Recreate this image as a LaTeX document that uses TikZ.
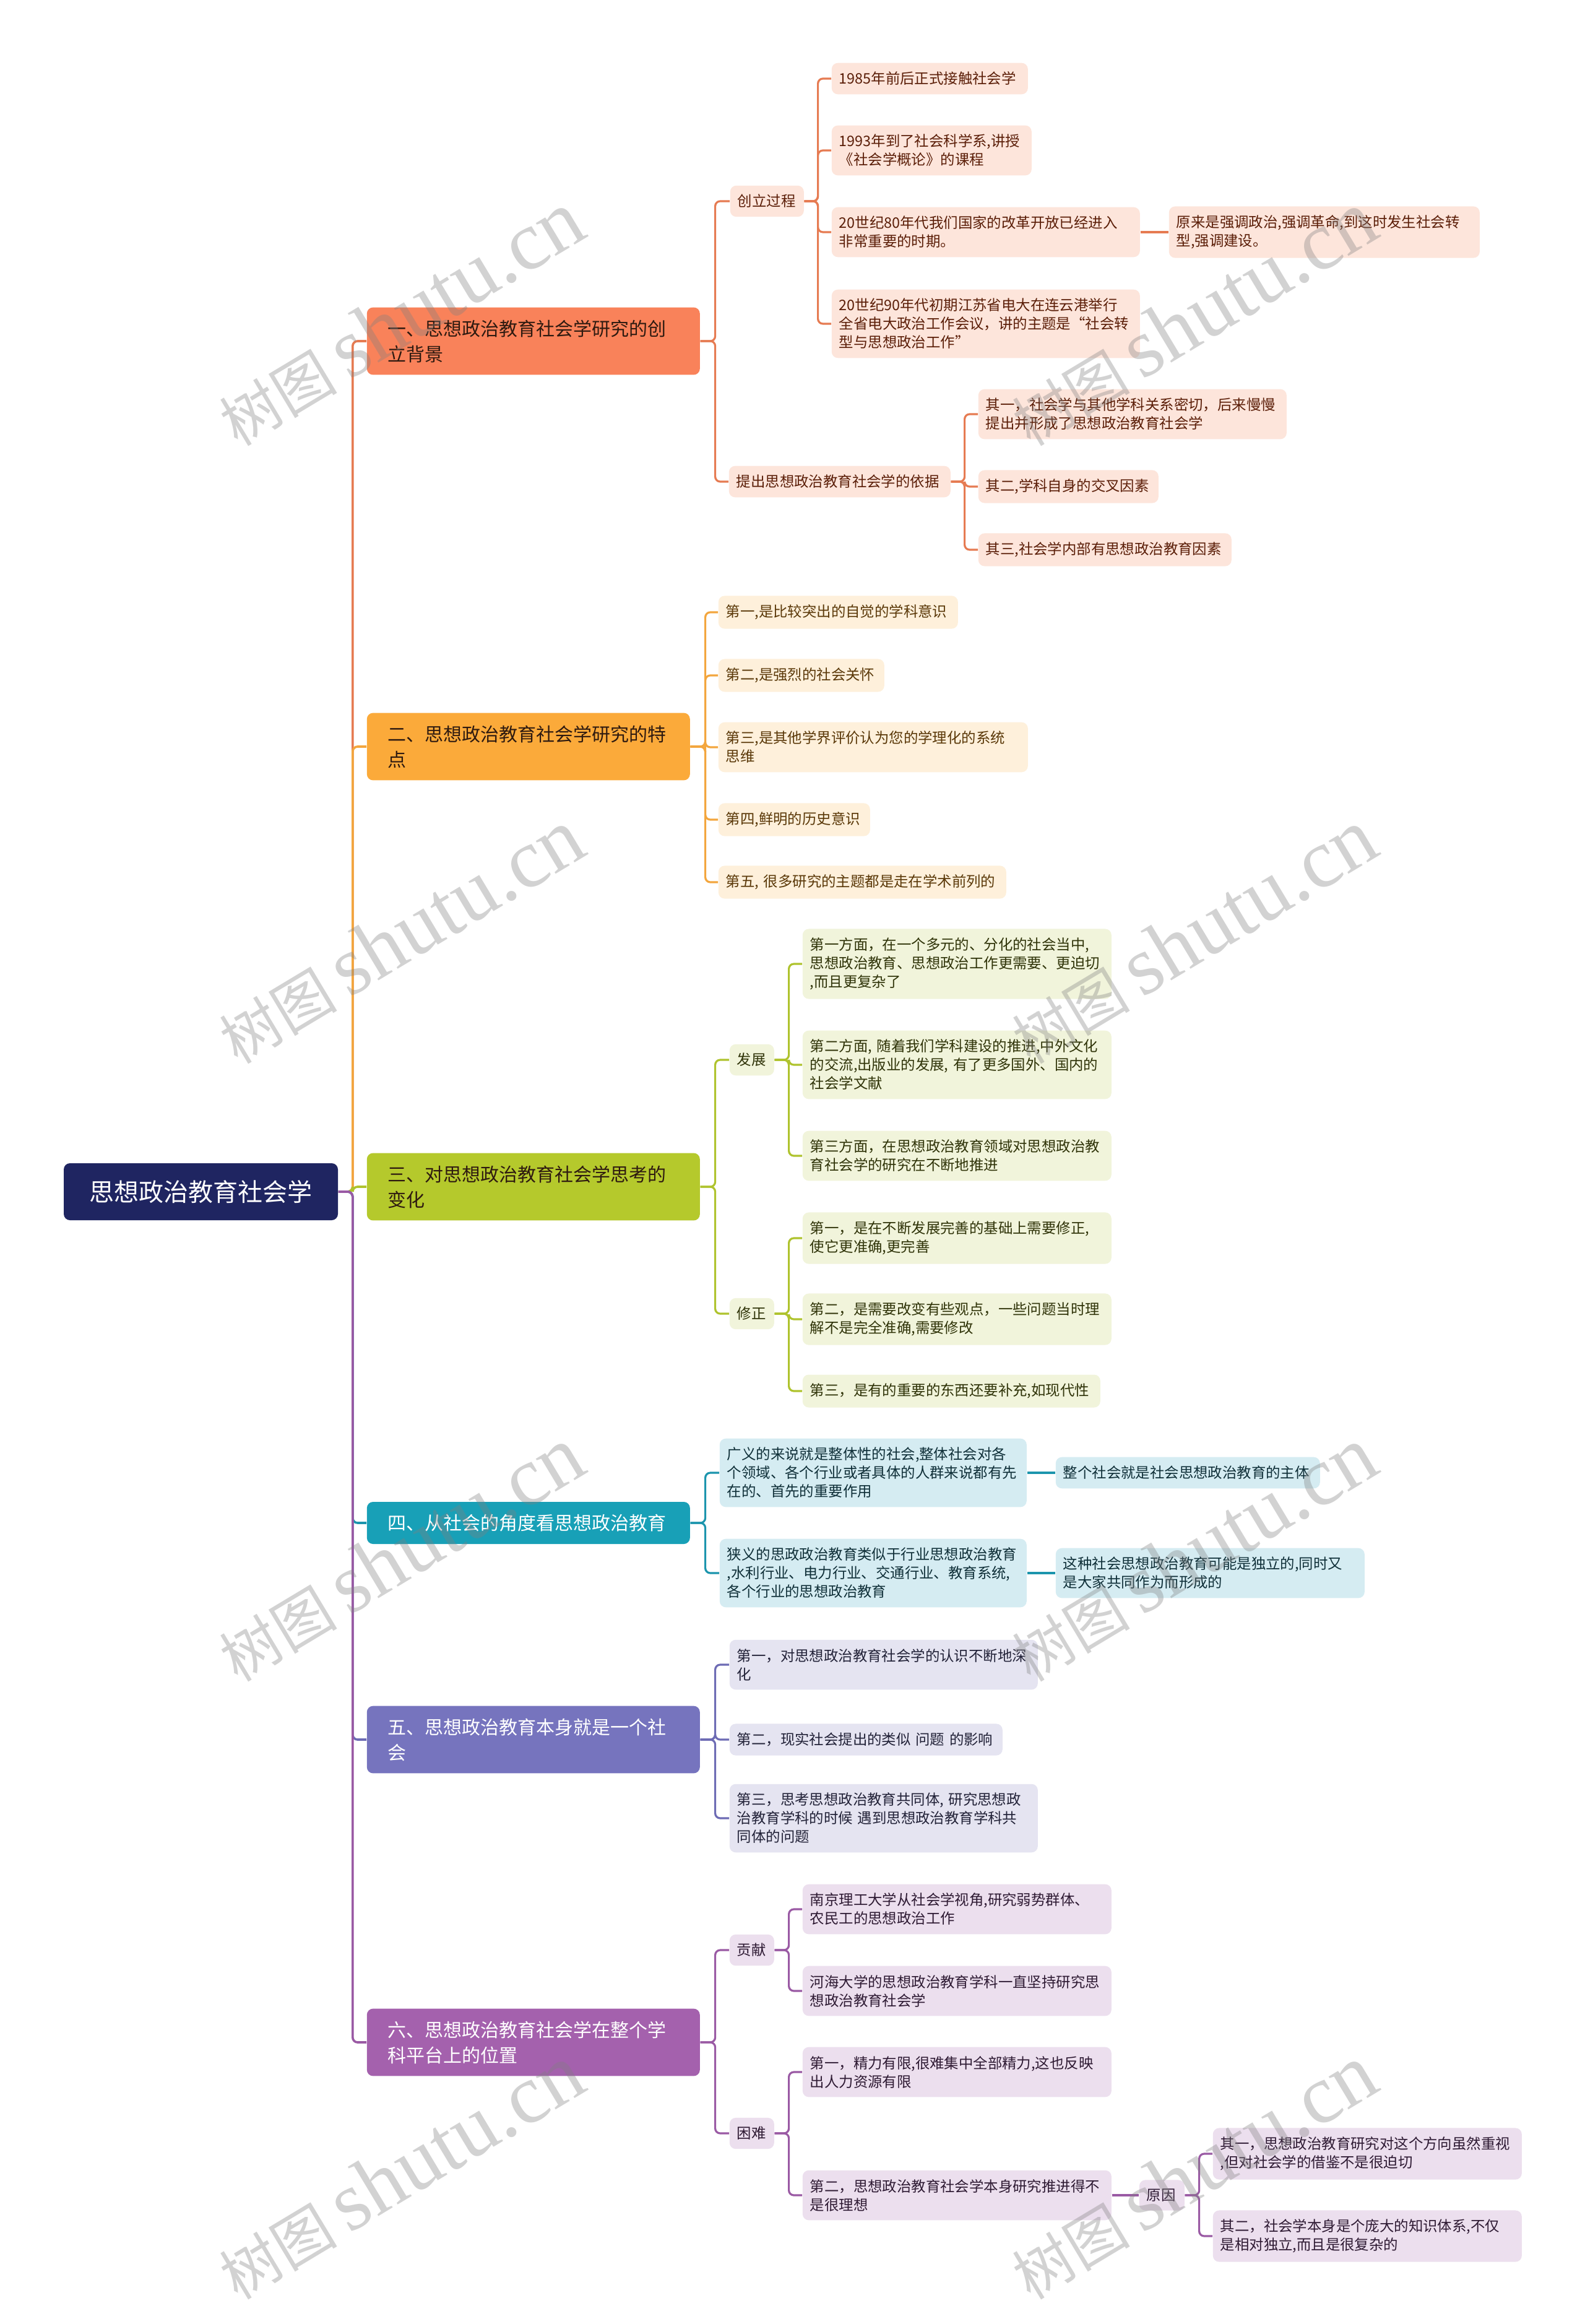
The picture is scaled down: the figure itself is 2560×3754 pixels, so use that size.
\documentclass[tikz,border=0pt]{standalone}
\usepackage{fontspec}
\setmainfont{Noto Sans CJK SC}
\newfontfamily\wmserif{Liberation Serif}
\usetikzlibrary{backgrounds}
\newcommand{\lffont}{\fontsize{5.85pt}{7.5pt}\selectfont}
\newcommand{\mnfont}{\fontsize{7.5pt}{10.25pt}\selectfont}
\newcommand{\rtfont}{\fontsize{10pt}{12pt}\selectfont}
\definecolor{rootc}{HTML}{1F2561}
\definecolor{mA}{HTML}{F9825A}\definecolor{lA}{HTML}{FDE5DB}\definecolor{tA}{HTML}{5B1E08}\definecolor{kA}{HTML}{E67B52}
\definecolor{mB}{HTML}{FBAA3A}\definecolor{lB}{HTML}{FEF0DB}\definecolor{tB}{HTML}{5A3808}\definecolor{kB}{HTML}{F3A63E}
\definecolor{mC}{HTML}{B5C92C}\definecolor{lC}{HTML}{F1F4DB}\definecolor{tC}{HTML}{2F3308}\definecolor{kC}{HTML}{AFC32E}
\definecolor{mD}{HTML}{18A0B7}\definecolor{lD}{HTML}{D5ECF2}\definecolor{tD}{HTML}{0F2F38}\definecolor{kD}{HTML}{1C95AD}
\definecolor{mE}{HTML}{7674BE}\definecolor{lE}{HTML}{E5E4F1}\definecolor{tE}{HTML}{222238}\definecolor{kE}{HTML}{6D6BB4}
\definecolor{mF}{HTML}{A461AD}\definecolor{lF}{HTML}{ECDFEE}\definecolor{tF}{HTML}{2E1A33}\definecolor{kF}{HTML}{9A5AA4}
\definecolor{mtxt}{HTML}{2E1A10}
\tikzset{
  lf/.style={rounded corners=2.5pt, anchor=west, align=left, inner xsep=3pt, inner ysep=3.6pt, font=\lffont},
  mn/.style={rounded corners=2.5pt, anchor=west, align=left, inner xsep=8.5pt, inner ysep=5pt, font=\mnfont},
  leafa/.style={lf, fill=lA, text=tA},
  leafb/.style={lf, fill=lB, text=tB},
  leafc/.style={lf, fill=lC, text=tC},
  leafd/.style={lf, fill=lD, text=tD},
  leafe/.style={lf, fill=lE, text=tE},
  leaff/.style={lf, fill=lF, text=tF},
  ln/.style={draw=#1, line width=0.8pt, rounded corners=2pt},
  mln/.style={draw=#1, line width=0.9pt, rounded corners=2pt},
  wm/.style={text=gray, opacity=0.35, rotate=31, inner sep=0pt}
}
\newcommand{\wmtext}{{\fontsize{23.75pt}{24pt}\selectfont 树图}\hspace{5pt}{\wmserif\fontsize{33.75pt}{34pt}\selectfont shutu.cn}}
\begin{document}
\begin{tikzpicture}[x=0.25pt,y=-0.25pt]
\useasboundingbox (0,0) rectangle (2560,3754);
% root
\node[fill=rootc, text=white, rounded corners=2.5pt, minimum width=110.75pt, minimum height=23pt, inner sep=0pt, font=\rtfont] (root) at (324.5,1925) {思想政治教育社会学};
% main nodes
\node[mn, fill=mA, text=mtxt, text width=117.5pt] (m1) at (592,551) {一、思想政治教育社会学研究的创\\立背景};
\node[mn, fill=mB, text=mtxt, text width=113.5pt] (m2) at (592,1206) {二、思想政治教育社会学研究的特\\点};
\node[mn, fill=mC, text=mtxt, text width=117.5pt] (m3) at (592,1917) {三、对思想政治教育社会学思考的\\变化};
\node[mn, fill=mD, text=white, text width=113.5pt] (m4) at (592,2460) {四、从社会的角度看思想政治教育};
\node[mn, fill=mE, text=white, text width=117.5pt] (m5) at (592,2810) {五、思想政治教育本身就是一个社\\会};
\node[mn, fill=mF, text=white, text width=117.5pt] (m6) at (592,3299) {六、思想政治教育社会学在整个学\\科平台上的位置};
% branch 1
\node[leafa, text width=23.75pt] (c1) at (1179,325) {创立过程};
\node[leafa, text width=73.25pt] (a1) at (1343,127) {1985年前后正式接触社会学};
\node[leafa, text width=74.75pt] (a2) at (1343,243) {1993年到了社会科学系,讲授\\《社会学概论》的课程};
\node[leafa, text width=118.5pt] (a3) at (1343,375) {20世纪80年代我们国家的改革开放已经进入\\非常重要的时期。};
\node[leafa, text width=119.5pt] (a3r) at (1888,375) {原来是强调政治,强调革命,到这时发生社会转\\型,强调建设。};
\node[leafa, text width=118.5pt] (a4) at (1343,523) {20世纪90年代初期江苏省电大在连云港举行\\全省电大政治工作会议，讲的主题是“社会转\\型与思想政治工作”};
\node[leafa, text width=83.5pt] (c2) at (1177,778) {提出思想政治教育社会学的依据};
\node[leafa, text width=118.5pt] (b1) at (1580,669) {其一，社会学与其他学科关系密切，后来慢慢\\提出并形成了思想政治教育社会学};
\node[leafa, text width=66.75pt] (b2) at (1580,786) {其二,学科自身的交叉因素};
\node[leafa, text width=96.25pt] (b3) at (1580,888) {其三,社会学内部有思想政治教育因素};
% branch 2
\node[leafb, text width=90.75pt] (d1) at (1160,989) {第一,是比较突出的自觉的学科意识};
\node[leafb, text width=61pt] (d2) at (1160,1091) {第二,是强烈的社会关怀};
\node[leafb, text width=119pt] (d3) at (1160,1207) {第三,是其他学界评价认为您的学理化的系统\\思维};
\node[leafb, text width=55.25pt] (d4) at (1160,1324) {第四,鲜明的历史意识};
\node[leafb, text width=110.25pt] (d5) at (1160,1425) {第五, 很多研究的主题都是走在学术前列的};
% branch 3
\node[leafc, text width=12pt] (e1) at (1178,1712) {发展};
\node[leafc, text width=12pt] (e2) at (1178,2122) {修正};
\node[leafc, text width=118.75pt] (f1) at (1296,1557) {第一方面，在一个多元的、分化的社会当中,\\思想政治教育、思想政治工作更需要、更迫切\\,而且更复杂了};
\node[leafc, text width=118.75pt] (f2) at (1296,1720) {第二方面, 随着我们学科建设的推进,中外文化\\的交流,出版业的发展, 有了更多国外、国内的\\社会学文献};
\node[leafc, text width=118.75pt] (f3) at (1296,1867) {第三方面，在思想政治教育领域对思想政治教\\育社会学的研究在不断地推进};
\node[leafc, text width=118.75pt] (g1) at (1296,2000) {第一，是在不断发展完善的基础上需要修正,\\使它更准确,更完善};
\node[leafc, text width=118.75pt] (g2) at (1296,2131) {第二，是需要改变有些观点，一些问题当时理\\解不是完全准确,需要修改};
\node[leafc, text width=114.25pt] (g3) at (1296,2247) {第三，是有的重要的东西还要补充,如现代性};
% branch 4
\node[leafd, text width=118pt] (h1) at (1162,2379) {广义的来说就是整体性的社会,整体社会对各\\个领域、各个行业或者具体的人群来说都有先\\在的、首先的重要作用};
\node[leafd, text width=100.75pt] (h1r) at (1705,2379) {整个社会就是社会思想政治教育的主体};
\node[leafd, text width=118pt] (h2) at (1162,2541) {狭义的思政政治教育类似于行业思想政治教育\\,水利行业、电力行业、交通行业、教育系统,\\各个行业的思想政治教育};
\node[leafd, text width=118.75pt] (h2r) at (1705,2541) {这种社会思想政治教育可能是独立的,同时又\\是大家共同作为而形成的};
% branch 5
\node[leafe, text width=118.5pt] (i1) at (1178,2689) {第一，对思想政治教育社会学的认识不断地深\\化};
\node[leafe, text width=104.25pt] (i2) at (1178,2810) {第二，现实社会提出的类似 问题 的影响};
\node[leafe, text width=118.5pt] (i3) at (1178,2937) {第三，思考思想政治教育共同体, 研究思想政\\治教育学科的时候 遇到思想政治教育学科共\\同体的问题};
% branch 6
\node[leaff, text width=12pt] (j1) at (1178,3150) {贡献};
\node[leaff, text width=12pt] (j2) at (1178,3446) {困难};
\node[leaff, text width=118.75pt] (k1) at (1296,3084) {南京理工大学从社会学视角,研究弱势群体、\\农民工的思想政治工作};
\node[leaff, text width=118.75pt] (k2) at (1296,3216) {河海大学的思想政治教育学科一直坚持研究思\\想政治教育社会学};
\node[leaff, text width=118.75pt] (k3) at (1296,3347) {第一，精力有限,很难集中全部精力,这也反映\\出人力资源有限};
\node[leaff, text width=118.75pt] (k4) at (1296,3546) {第二，思想政治教育社会学本身研究推进得不\\是很理想};
\node[leaff, text width=12.25pt] (r0) at (1840,3546) {原因};
\node[leaff, text width=118.75pt] (r1) at (1959,3479) {其一，思想政治教育研究对这个方向虽然重视\\,但对社会学的借鉴不是很迫切};
\node[leaff, text width=118.75pt] (r2) at (1959,3612) {其二，社会学本身是个庞大的知识体系,不仅\\是相对独立,而且是很复杂的};
% connectors
\begin{scope}[on background layer]
\fill[white] (0,0) rectangle (2560,3754);
\draw[mln=kA] (root.east) -- ++(23,0) |- (m1.west);
\draw[mln=kB] (root.east) -- ++(23,0) |- (m2.west);
\draw[mln=kC] (root.east) -- ++(23,0) |- (m3.west);
\draw[mln=kD] (root.east) -- ++(23,0) |- (m4.west);
\draw[mln=kE] (root.east) -- ++(23,0) |- (m5.west);
\draw[mln=kF] (root.east) -- ++(23,0) |- (m6.west);
\foreach \t in {c1,c2} \draw[ln=kA] (m1.east) -- ++(24,0) |- (\t.west);
\foreach \t in {a1,a2,a3,a4} \draw[ln=kA] (c1.east) -- ++(22,0) |- (\t.west);
\draw[ln=kA] (a3.east) -- (a3r.west);
\foreach \t in {b1,b2,b3} \draw[ln=kA] (c2.east) -- ++(22,0) |- (\t.west);
\foreach \t in {d1,d2,d3,d4,d5} \draw[ln=kB] (m2.east) -- ++(24,0) |- (\t.west);
\foreach \t in {e1,e2} \draw[ln=kC] (m3.east) -- ++(24,0) |- (\t.west);
\foreach \t in {f1,f2,f3} \draw[ln=kC] (e1.east) -- ++(23,0) |- (\t.west);
\foreach \t in {g1,g2,g3} \draw[ln=kC] (e2.east) -- ++(23,0) |- (\t.west);
\foreach \t in {h1,h2} \draw[ln=kD] (m4.east) -- ++(24,0) |- (\t.west);
\draw[ln=kD] (h1.east) -- (h1r.west);
\draw[ln=kD] (h2.east) -- (h2r.west);
\foreach \t in {i1,i2,i3} \draw[ln=kE] (m5.east) -- ++(24,0) |- (\t.west);
\foreach \t in {j1,j2} \draw[ln=kF] (m6.east) -- ++(24,0) |- (\t.west);
\foreach \t in {k1,k2} \draw[ln=kF] (j1.east) -- ++(23,0) |- (\t.west);
\foreach \t in {k3,k4} \draw[ln=kF] (j2.east) -- ++(23,0) |- (\t.west);
\draw[ln=kF] (k4.east) -- (r0.west);
\foreach \t in {r1,r2} \draw[ln=kF] (r0.east) -- ++(23,0) |- (\t.west);
\end{scope}
% watermarks
\foreach \yy in {515,1513,2511,3509} {
  \node[wm] (wl\yy) at (647,\yy) {\wmtext};
  \node[wm] (wr\yy) at (1928,\yy) {\wmtext};
}
\end{tikzpicture}
\end{document}
